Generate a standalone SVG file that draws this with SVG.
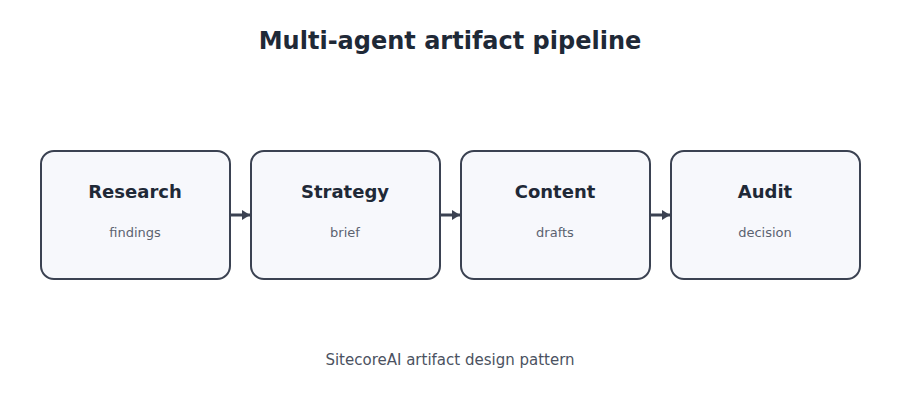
<svg xmlns="http://www.w3.org/2000/svg" width="900" height="420" viewBox="0 0 900 420">
<defs>
<style>
text{font-family:"DejaVu Sans","Liberation Sans",sans-serif;text-anchor:middle}
.t{font-size:24px;font-weight:bold;fill:#1f2937}
.box{fill:#f7f8fc;stroke:#3b4252;stroke-width:2}
.h{font-size:18px;font-weight:bold;fill:#1f2937}
.s{font-size:13px;fill:#5b6270}
.f{font-size:15px;fill:#4b5261}
.c{stroke:#3b4252;stroke-width:3;fill:none}
</style>
<marker id="ah" markerWidth="10" markerHeight="10" refX="8" refY="5" orient="auto" markerUnits="userSpaceOnUse">
<path d="M0,0 L8,5 L0,10 Z" fill="#3b4252"/>
</marker>
</defs>
<rect width="900" height="420" fill="#ffffff"/>
<text class="t" x="450" y="49">Multi-agent artifact pipeline</text>
<g id="connectors">
<line class="c" x1="230" y1="215" x2="250" y2="215" marker-end="url(#ah)"/>
<line class="c" x1="440" y1="215" x2="460" y2="215" marker-end="url(#ah)"/>
<line class="c" x1="650" y1="215" x2="670" y2="215" marker-end="url(#ah)"/>
</g>
<g id="research">
<rect class="box" x="41" y="151" width="189" height="128" rx="13"/>
<text class="h" x="135" y="198">Research</text>
<text class="s" x="135" y="237">findings</text>
</g>
<g id="strategy">
<rect class="box" x="251" y="151" width="189" height="128" rx="13"/>
<text class="h" x="345" y="198">Strategy</text>
<text class="s" x="345" y="237">brief</text>
</g>
<g id="content">
<rect class="box" x="461" y="151" width="189" height="128" rx="13"/>
<text class="h" x="555" y="198">Content</text>
<text class="s" x="555" y="237">drafts</text>
</g>
<g id="audit">
<rect class="box" x="671" y="151" width="189" height="128" rx="13"/>
<text class="h" x="765" y="198">Audit</text>
<text class="s" x="765" y="237">decision</text>
</g>
<text class="f" x="450" y="365">SitecoreAI artifact design pattern</text>
</svg>
